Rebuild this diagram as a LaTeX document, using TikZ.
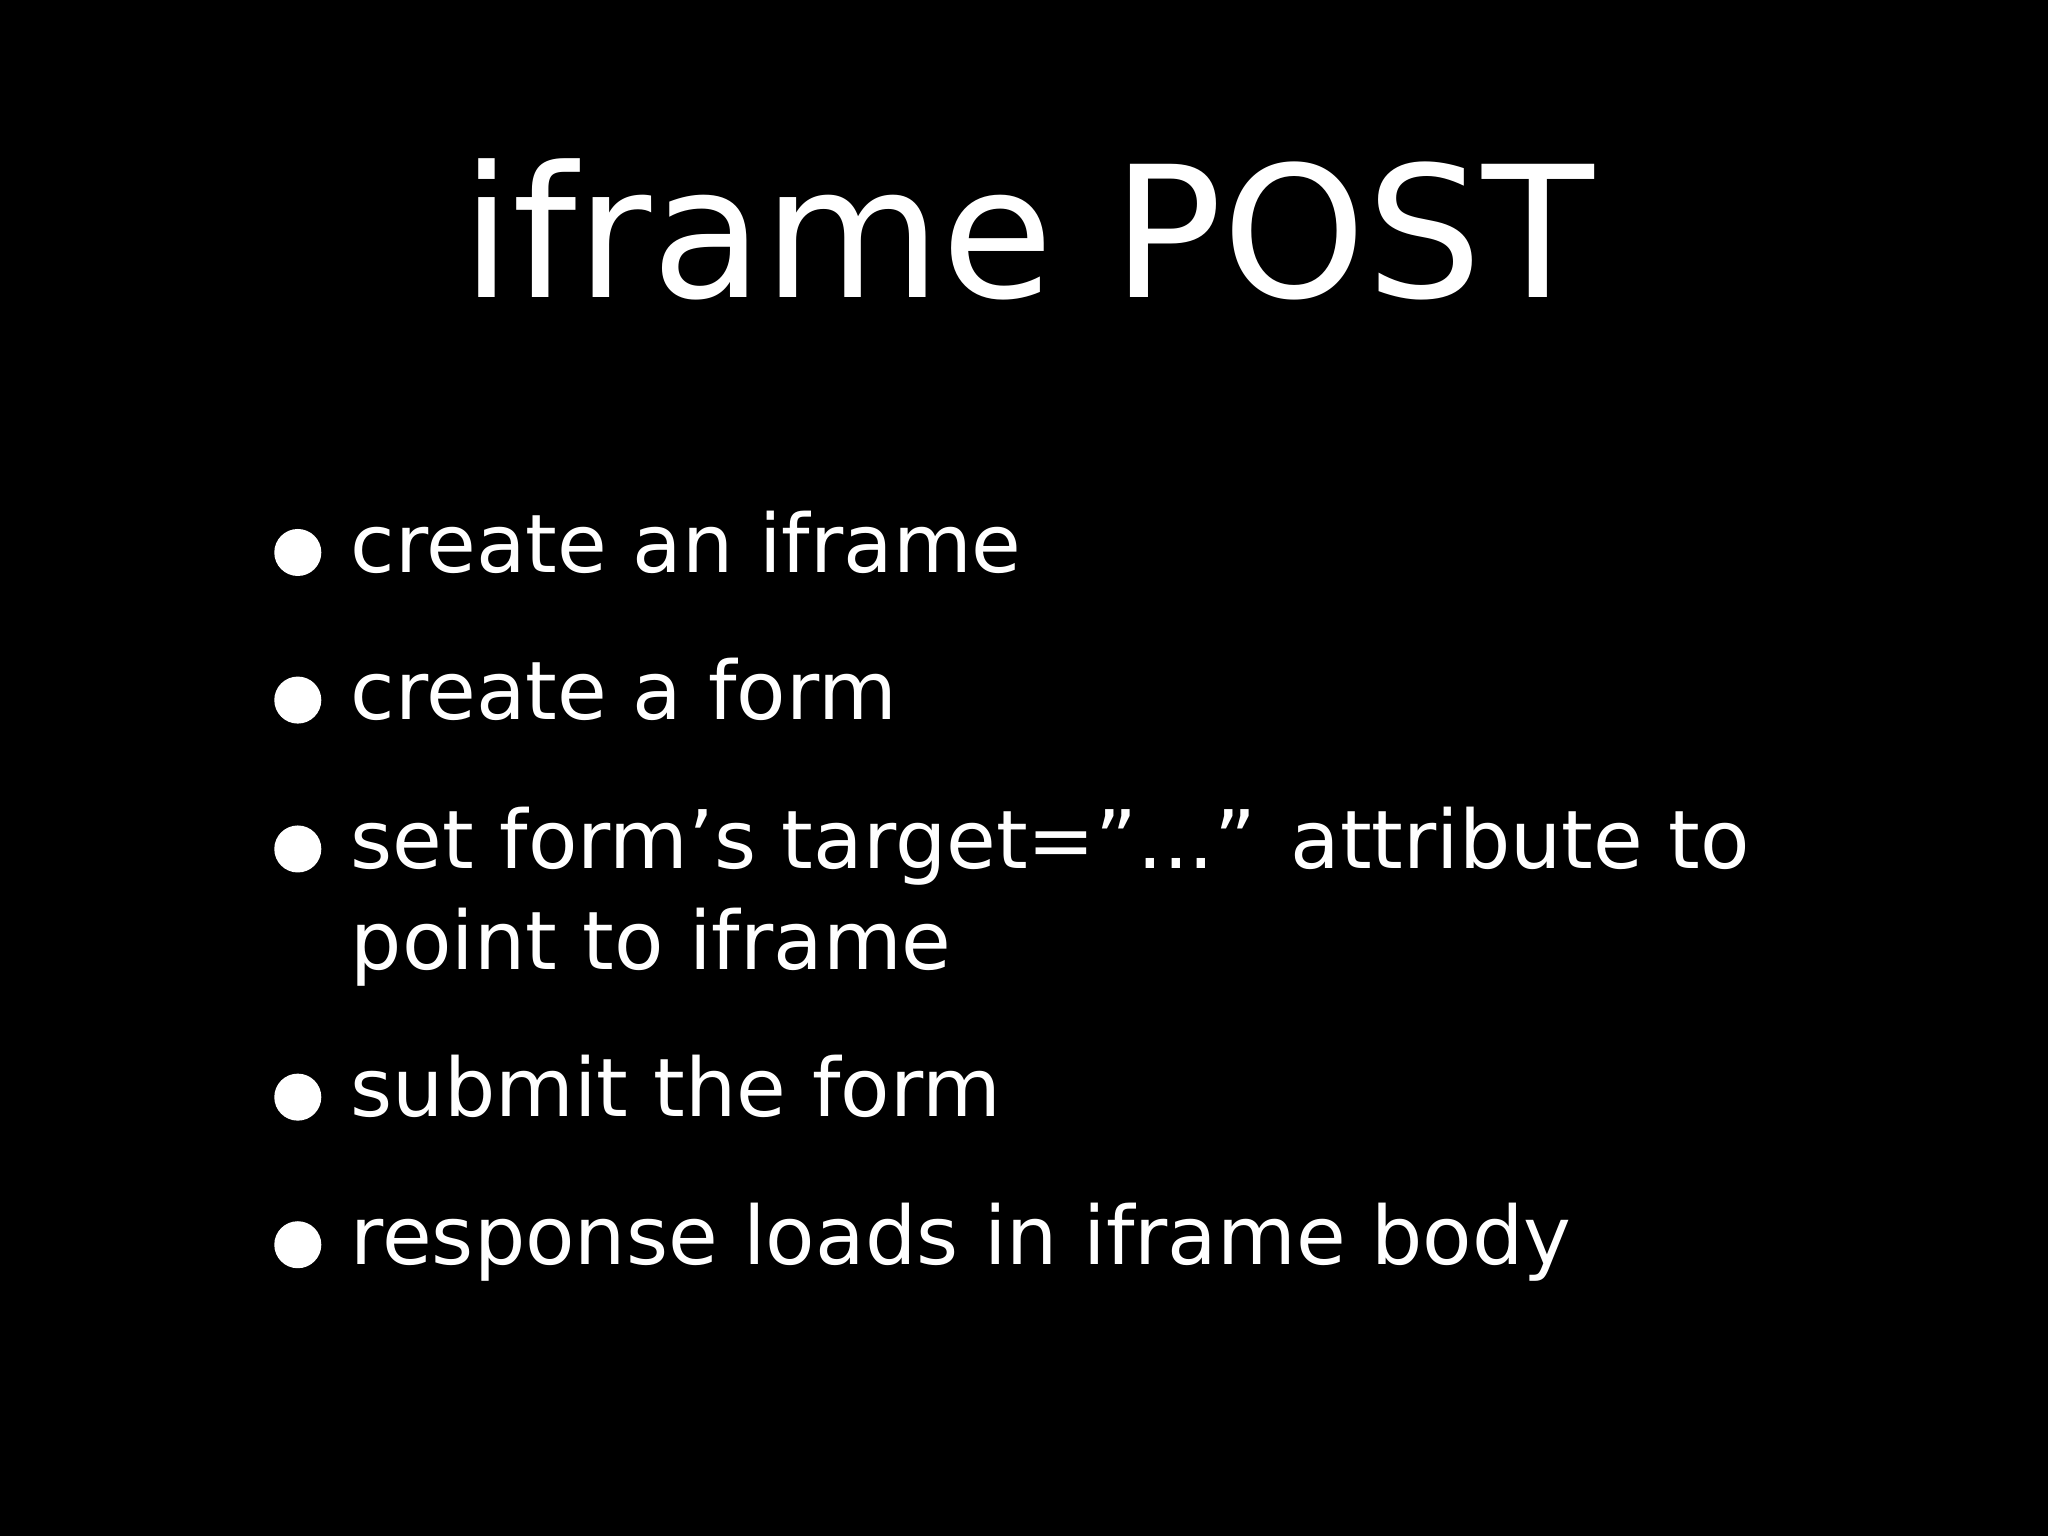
\documentclass[tikz,border=0pt]{standalone}
\usepackage{fontspec}
\setmainfont{DejaVu Sans}
\begin{document}
\begin{tikzpicture}[x=0.013061cm,y=-0.013061cm,
  item/.style={anchor=base west,inner sep=0pt,text=white,font=\fontsize{23}{28}\selectfont},
  dot/.style={circle,fill=white,minimum size=36*0.013061cm,inner sep=0pt}]
\fill[black] (0,0) rectangle (1568,1176);
\useasboundingbox (0,0) rectangle (1568,1176);
\node[anchor=base,inner sep=0pt,text=white,font=\fontsize{52}{60}\selectfont] (title) at (787,228) {iframe POST};
\node[dot] (d1) at (228,423) {};
\node[item] (t1) at (268,438) {create an iframe};
\node[dot] (d2) at (228,536) {};
\node[item] (t2) at (268,551) {create a form};
\node[dot] (d3) at (228,650) {};
\node[item] (t3) at (268,665) {set form’s target=”...” attribute to};
\node[item] (t3b) at (268,742) {point to iframe};
\node[dot] (d4) at (228,840) {};
\node[item] (t4) at (268,855) {submit the form};
\node[dot] (d5) at (228,953) {};
\node[item] (t5) at (268,968) {response loads in iframe body};
\end{tikzpicture}
\end{document}
